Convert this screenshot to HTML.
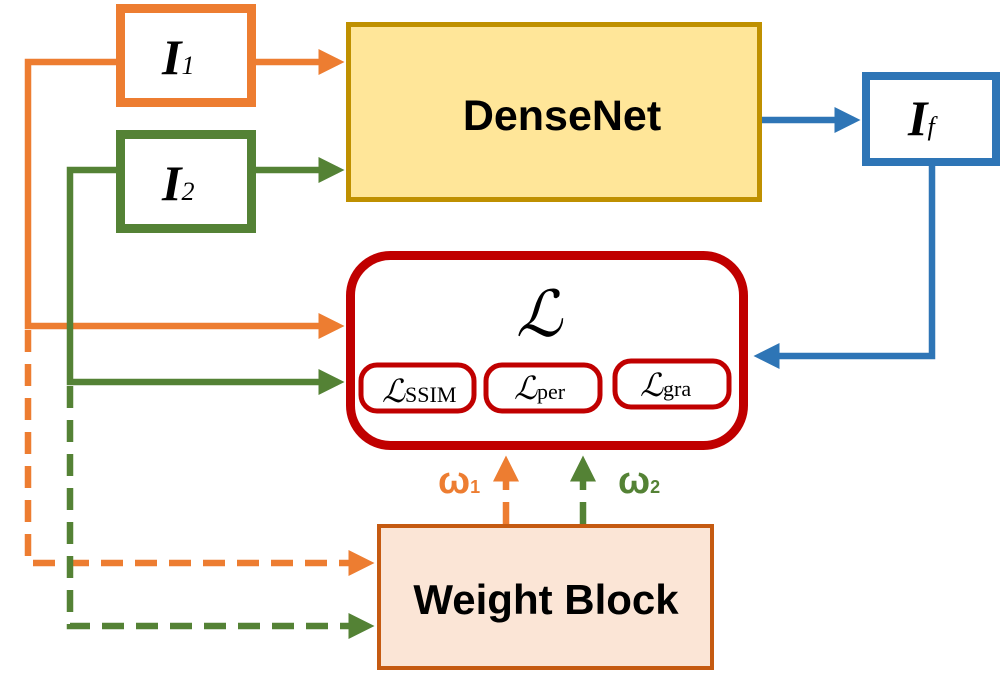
<!DOCTYPE html>
<html><head><meta charset="utf-8"><style>body{margin:0;background:#fff}svg{display:block}</style></head><body>
<svg width="1008" height="680" viewBox="0 0 1008 680" xmlns="http://www.w3.org/2000/svg">
<defs>
<marker id="ao" markerWidth="4" markerHeight="4" refX="3" refY="2" orient="auto" markerUnits="strokeWidth"><path d="M0,0L4,2L0,4z" fill="#ED7D31"/></marker>
<marker id="ag" markerWidth="4" markerHeight="4" refX="3" refY="2" orient="auto" markerUnits="strokeWidth"><path d="M0,0L4,2L0,4z" fill="#548235"/></marker>
<marker id="ab" markerWidth="4" markerHeight="4" refX="3" refY="2" orient="auto" markerUnits="strokeWidth"><path d="M0,0L4,2L0,4z" fill="#2E75B6"/></marker>
</defs>
<g fill="none" stroke-width="6.5">
<path d="M120,62H28V326H338" stroke="#ED7D31" marker-end="url(#ao)"/>
<path d="M256,62H338" stroke="#ED7D31" marker-end="url(#ao)"/>
<path d="M28,330V563H368" stroke="#ED7D31" stroke-dasharray="22,12" marker-end="url(#ao)"/>
<path d="M120,170H70V382H338" stroke="#548235" marker-end="url(#ag)"/>
<path d="M256,170H338" stroke="#548235" marker-end="url(#ag)"/>
<path d="M70,386V626H368" stroke="#548235" stroke-dasharray="22,12" marker-end="url(#ag)"/>
<path d="M762,120H854" stroke="#2E75B6" marker-end="url(#ab)"/>
<path d="M932,166V356H760" stroke="#2E75B6" marker-end="url(#ab)"/>
<path d="M506,524V462" stroke="#ED7D31" stroke-dasharray="22,12" marker-end="url(#ao)"/>
<path d="M583,524V462" stroke="#548235" stroke-dasharray="22,12" marker-end="url(#ag)"/>
</g>
<rect x="120.5" y="8.5" width="131" height="94" fill="#fff" stroke="#ED7D31" stroke-width="9"/>
<rect x="120.5" y="134.5" width="131" height="94" fill="#fff" stroke="#548235" stroke-width="9"/>
<rect x="348.5" y="24.5" width="411" height="175" fill="#FFE699" stroke="#BF9000" stroke-width="5"/>
<rect x="866" y="76" width="130" height="86" fill="#fff" stroke="#2E75B6" stroke-width="8"/>
<rect x="350.5" y="255.5" width="393" height="190" rx="40" fill="#fff" stroke="#C00000" stroke-width="9"/>
<rect x="361" y="365" width="113" height="46" rx="16" fill="#fff" stroke="#C00000" stroke-width="5"/>
<rect x="486" y="365" width="114" height="46" rx="16" fill="#fff" stroke="#C00000" stroke-width="5"/>
<rect x="615" y="361" width="114" height="46" rx="16" fill="#fff" stroke="#C00000" stroke-width="5"/>
<rect x="379" y="526" width="333" height="142" fill="#FBE5D6" stroke="#C55A11" stroke-width="4"/>
<g font-family="Liberation Serif, serif">
<text x="162" y="74" font-size="50" font-weight="bold" font-style="italic">I<tspan font-size="26" font-weight="normal">1</tspan></text>
<text x="162" y="200" font-size="50" font-weight="bold" font-style="italic">I<tspan font-size="26" font-weight="normal">2</tspan></text>
<text x="908" y="135" font-size="50" font-weight="bold" font-style="italic">I<tspan font-size="26" font-weight="normal">f</tspan></text>
<text x="516" y="336" font-size="64" font-style="italic">ℒ</text>
<text x="382" y="402" font-size="32" font-style="italic">ℒ<tspan font-style="normal" font-size="22">SSIM</tspan></text>
<text x="514" y="399" font-size="32" font-style="italic">ℒ<tspan font-style="normal" font-size="22">per</tspan></text>
<text x="640" y="396" font-size="32" font-style="italic">ℒ<tspan font-style="normal" font-size="22">gra</tspan></text>
</g>
<g font-family="Liberation Sans, sans-serif" font-weight="bold">
<text x="562" y="130" font-size="43" text-anchor="middle">DenseNet</text>
<text x="546" y="614" font-size="42" text-anchor="middle">Weight Block</text>
<text x="438" y="493" font-size="38" fill="#ED7D31">ω<tspan font-size="18">1</tspan></text>
<text x="618" y="493" font-size="38" fill="#548235">ω<tspan font-size="18">2</tspan></text>
</g>
</svg>
</body></html>
